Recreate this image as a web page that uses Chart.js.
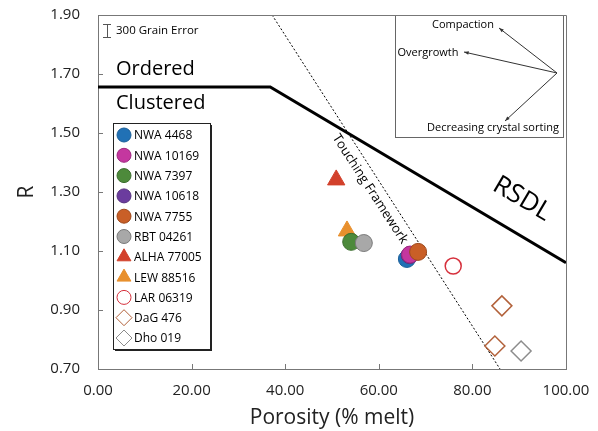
<!DOCTYPE html>
<html>
<head>
<meta charset="utf-8">
<script src="https://cdn.jsdelivr.net/npm/chart.js@4"></script>
<style>
  html, body { margin: 0; padding: 0; background: #fff; }
  #wrap { width: 598px; height: 431px; }
</style>
</head>
<body>
<div id="wrap"><canvas id="myChart" width="598" height="431"></canvas></div>
<script>
// sample names, porosity (% melt) and R
const sampleNames = ['NWA 4468', 'NWA 10169', 'NWA 7397', 'NWA 10618', 'NWA 7755', 'RBT 04261',
                     'ALHA 77005', 'LEW 88516', 'LAR 06319', 'DaG 476', 'Dho 019'];
const samplePorosity = [[66.0], [66.7], [54.1], [66.6], [68.4], [56.8], [50.9], [53.2], [75.9], [86.3, 84.8], [90.4]];
const sampleR = [[1.073], [1.088], [1.131], [1.086], [1.097], [1.127], [1.341], [1.168], [1.049], [0.914, 0.778], [0.761]];

// boundary lines
const rsdlX = [0, 36.8, 100];
const rsdlY = [1.656, 1.656, 1.06];
const framewX = [37.2, 85.9];
const framewY = [1.90, 0.70];

const xTicks = [0, 20, 40, 60, 80, 100];
const yTicks = [0.70, 0.90, 1.10, 1.30, 1.50, 1.70, 1.90];

const FONT = '"Open Sans", "Noto Sans", sans-serif';

const markerStyles = [
    { pointStyle: 'circle', fill: '#2171b5', stroke: '#1a5f99', radius: 8.5 },
    { pointStyle: 'circle', fill: '#c4379f', stroke: '#a02a82', radius: 8.5 },
    { pointStyle: 'circle', fill: '#4d8a3b', stroke: '#3c6e2e', radius: 8.5 },
    { pointStyle: 'circle', fill: '#6b3c9e', stroke: '#55307e', radius: 8.5 },
    { pointStyle: 'circle', fill: '#c95f27', stroke: '#9e4a1e', radius: 8.5 },
    { pointStyle: 'circle', fill: '#a8a8a8', stroke: '#7a7a7a', radius: 8.5 },
    { pointStyle: 'triangle', fill: '#d2402b', stroke: '#d2402b', radius: 10 },
    { pointStyle: 'triangle', fill: '#e8902e', stroke: '#e8902e', radius: 10 },
    { pointStyle: 'circle', fill: '#ffffff', stroke: '#d6303c', radius: 8 },
    { pointStyle: 'rectRot', fill: '#ffffff', stroke: '#b2613a', radius: 10 },
    { pointStyle: 'rectRot', fill: '#ffffff', stroke: '#8c8c8c', radius: 10 }
];
// lower order = drawn on top
const drawOrder = [14, 12, 9, 13, 10, 8, 5, 16, 5, 5, 5];

function makePoints(xs, ys) {
    return xs.map((x, i) => ({ x: x, y: ys[i] }));
}

const datasets = sampleNames.map((name, i) => ({
    label: name,
    data: makePoints(samplePorosity[i], sampleR[i]),
    pointStyle: markerStyles[i].pointStyle,
    backgroundColor: markerStyles[i].fill,
    borderColor: markerStyles[i].stroke,
    borderWidth: markerStyles[i].fill === '#ffffff' ? 1.5 : 1,
    pointRadius: markerStyles[i].radius,
    pointHoverRadius: markerStyles[i].radius,
    order: drawOrder[i]
}));

datasets.push({
    label: 'RSDL',
    type: 'line',
    data: makePoints(rsdlX, rsdlY),
    borderColor: '#000',
    borderWidth: 3,
    pointRadius: 0,
    fill: false,
    order: 20
});
datasets.push({
    label: 'Touching Framework',
    type: 'line',
    data: makePoints(framewX, framewY),
    borderColor: '#000',
    borderWidth: 1,
    borderDash: [2, 2],
    pointRadius: 0,
    fill: false,
    order: 21
});

const extrasPlugin = {
    id: 'extras',
    afterDatasetsDraw(chart) {
        const ctx = chart.ctx;
        const xs = chart.scales.x, ys = chart.scales.y;
        const area = chart.chartArea;
        ctx.save();

        // inward tick marks
        ctx.strokeStyle = '#777';
        ctx.lineWidth = 1;
        xTicks.slice(1, -1).forEach(v => {
            const px = Math.round(xs.getPixelForValue(v)) + 0.5;
            ctx.beginPath();
            ctx.moveTo(px, area.bottom);
            ctx.lineTo(px, area.bottom - 5);
            ctx.stroke();
        });
        yTicks.slice(1, -1).forEach(v => {
            const py = Math.round(ys.getPixelForValue(v)) + 0.5;
            ctx.beginPath();
            ctx.moveTo(area.left, py);
            ctx.lineTo(area.left + 5, py);
            ctx.stroke();
        });

        // region labels
        ctx.fillStyle = '#000';
        ctx.textBaseline = 'middle';
        ctx.textAlign = 'left';
        ctx.font = '20px ' + FONT;
        ctx.fillText('Ordered', 116, 69);
        ctx.fillText('Clustered', 116, 103);

        // grain error bar
        ctx.strokeStyle = '#555';
        ctx.beginPath();
        ctx.moveTo(103, 24.5); ctx.lineTo(111, 24.5);
        ctx.moveTo(107.5, 24.5); ctx.lineTo(107.5, 37.5);
        ctx.moveTo(103, 37.5); ctx.lineTo(111, 37.5);
        ctx.stroke();
        ctx.font = '11.5px ' + FONT;
        ctx.fillText('300 Grain Error', 116, 31);

        // rotated line labels
        ctx.save();
        ctx.translate(370, 189);
        ctx.rotate(57 * Math.PI / 180);
        ctx.textAlign = 'center';
        ctx.font = '13px ' + FONT;
        ctx.fillText('Touching Framework', 0, 0);
        ctx.restore();

        ctx.save();
        ctx.translate(522, 199);
        ctx.rotate(30.5 * Math.PI / 180);
        ctx.textAlign = 'center';
        ctx.font = '26px ' + FONT;
        ctx.fillText('RSDL', 0, 0);
        ctx.restore();

        // inset box
        ctx.fillStyle = '#fff';
        ctx.fillRect(395, 15, 168, 122);
        ctx.strokeStyle = '#666';
        ctx.lineWidth = 1;
        ctx.strokeRect(395.5, 15.5, 168, 122);
        ctx.fillStyle = '#000';
        ctx.font = '11px ' + FONT;
        ctx.textAlign = 'center';
        ctx.fillText('Compaction', 463, 25);
        ctx.fillText('Overgrowth', 428, 53);
        ctx.fillText('Decreasing crystal sorting', 493, 128);
        const origin = [557, 73];
        const targets = [[499, 28], [464, 52], [505, 121]];
        ctx.strokeStyle = '#333';
        ctx.fillStyle = '#333';
        targets.forEach(t => {
            ctx.beginPath();
            ctx.moveTo(origin[0], origin[1]);
            ctx.lineTo(t[0], t[1]);
            ctx.stroke();
            const a = Math.atan2(t[1] - origin[1], t[0] - origin[0]);
            ctx.beginPath();
            ctx.moveTo(t[0], t[1]);
            ctx.lineTo(t[0] - 5 * Math.cos(a - 0.35), t[1] - 5 * Math.sin(a - 0.35));
            ctx.lineTo(t[0] - 5 * Math.cos(a + 0.35), t[1] - 5 * Math.sin(a + 0.35));
            ctx.closePath();
            ctx.fill();
        });

        // legend box
        const lx = 113, ly = 123, lw = 97, lh = 226;
        ctx.fillStyle = '#222';
        ctx.fillRect(lx + 2, ly + 2, lw, lh);
        ctx.fillStyle = '#fff';
        ctx.fillRect(lx, ly, lw, lh);
        ctx.strokeStyle = '#222';
        ctx.lineWidth = 1;
        ctx.strokeRect(lx + 0.5, ly + 0.5, lw, lh);
        ctx.font = '12px ' + FONT;
        ctx.textAlign = 'left';
        sampleNames.forEach((name, i) => {
            const y = 135 + i * 20.3;
            const st = markerStyles[i];
            ctx.fillStyle = st.fill;
            ctx.strokeStyle = st.stroke;
            ctx.lineWidth = 1;
            Chart.helpers.drawPoint(ctx, {
                pointStyle: st.pointStyle,
                radius: st.pointStyle === 'circle' ? 7 : 8,
                rotation: 0,
                borderWidth: 1
            }, 124, y);
            ctx.fillStyle = '#000';
            ctx.fillText(name, 134, y + 1);
        });

        ctx.restore();
    }
};

var ctx = document.getElementById('myChart').getContext('2d');
var config = {
    type: 'scatter',
    data: { datasets: datasets },
    options: {
        responsive: false,
        animation: false,
        events: [],
        layout: { padding: { top: 15, right: 32, left: 0, bottom: 0 } },
        plugins: {
            legend: { display: false },
            tooltip: { enabled: false }
        },
        scales: {
            x: {
                type: 'linear',
                min: 0,
                max: 100,
                afterBuildTicks: axis => { axis.ticks = xTicks.map(v => ({ value: v })); },
                afterFit: axis => {
                    axis.height = 62;
                    axis.paddingLeft = 0;
                    axis.paddingRight = 0;
                },
                grid: { display: false, drawTicks: false },
                border: { display: true, color: '#777', width: 1 },
                ticks: {
                    padding: 13,
                    color: '#222',
                    font: { family: FONT, size: 15 },
                    maxRotation: 0,
                    callback: v => v.toFixed(2)
                },
                title: {
                    display: true,
                    text: 'Porosity (% melt)',
                    color: '#222',
                    font: { family: FONT, size: 21 },
                    padding: { top: 0, bottom: 0 }
                }
            },
            y: {
                type: 'linear',
                min: 0.70,
                max: 1.90,
                afterBuildTicks: axis => { axis.ticks = yTicks.map(v => ({ value: v })); },
                afterFit: axis => {
                    axis.width = 98;
                    axis.paddingTop = 0;
                    axis.paddingBottom = 0;
                },
                grid: { display: false, drawTicks: false },
                border: { display: true, color: '#777', width: 1 },
                ticks: {
                    padding: 18,
                    color: '#222',
                    font: { family: FONT, size: 15 },
                    callback: v => v.toFixed(2)
                },
                title: {
                    display: true,
                    text: 'R',
                    color: '#222',
                    font: { family: FONT, size: 21 },
                    padding: { top: 14, bottom: 0 }
                }
            }
        }
    },
    plugins: [{
        id: 'frame',
        afterDraw(chart) {
            const a = chart.chartArea;
            const c = chart.ctx;
            c.save();
            c.strokeStyle = '#777';
            c.lineWidth = 1;
            c.beginPath();
            c.moveTo(a.left, a.top + 0.5);
            c.lineTo(a.right + 0.5, a.top + 0.5);
            c.lineTo(a.right + 0.5, a.bottom);
            c.stroke();
            c.restore();
        }
    }, extrasPlugin]
};

var myChart = new Chart(ctx, config);
</script>
</body>
</html>
